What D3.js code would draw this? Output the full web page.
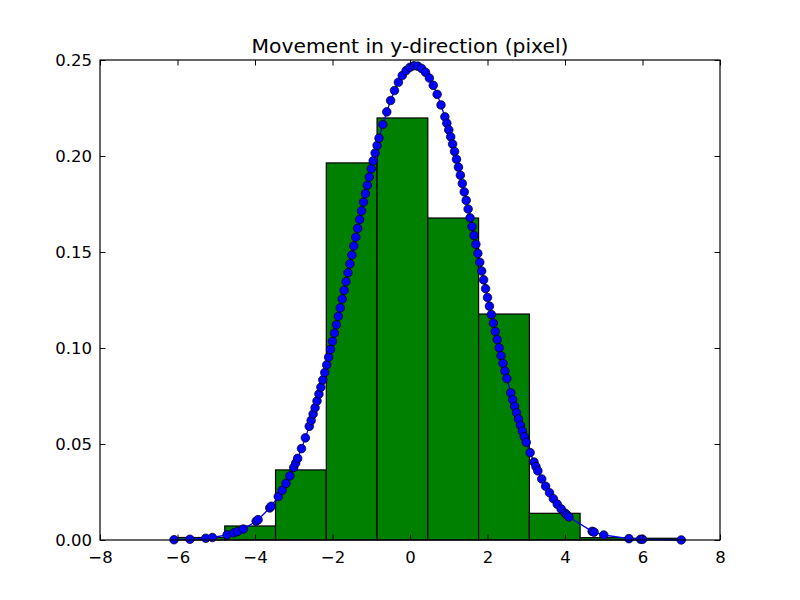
<!DOCTYPE html>
<html><head><meta charset="utf-8">
<script src="https://d3js.org/d3.v7.min.js"></script>
<style>body{margin:0;background:#fff}svg{display:block}text{font-family:"DejaVu Sans",sans-serif}</style>
</head><body><svg id="c" width="800" height="600"></svg>
<script>
// Histogram bins (edges) and density heights
const binEdges = [-6.09, -4.78, -3.47, -2.16, -0.85, 0.46, 1.77, 3.08, 4.39, 5.70, 7.01];
const binHeights = [0.0013, 0.0073, 0.0365, 0.1964, 0.2198, 0.1677, 0.1177, 0.0139, 0.0012, 0.0009];
// Sorted samples and their fitted pdf values
const sampleX = [-6.09,-5.68,-5.27,-5.1,-4.72,-4.55,-4.45,-4.3,-3.97,-3.92,-3.62,-3.58,-3.4,-3.3,-3.2,-3.1,-3.0,-2.95,-2.9,-2.8,-2.7,-2.6,-2.55,-2.5,-2.45,-2.4,-2.35,-2.3,-2.25,-2.2,-2.15,-2.1,-2.05,-2.0,-1.95,-1.9,-1.85,-1.8,-1.75,-1.7,-1.65,-1.6,-1.55,-1.5,-1.45,-1.4,-1.35,-1.3,-1.25,-1.2,-1.15,-1.1,-1.05,-1.0,-0.95,-0.9,-0.85,-0.8,-0.7,-0.6,-0.5,-0.4,-0.3,-0.2,-0.1,0.0,0.1,0.2,0.3,0.4,0.5,0.6,0.7,0.8,0.9,0.95,1.0,1.05,1.1,1.15,1.2,1.25,1.3,1.35,1.4,1.45,1.5,1.55,1.6,1.65,1.7,1.75,1.8,1.85,1.9,1.95,2.0,2.05,2.1,2.15,2.2,2.25,2.3,2.35,2.4,2.45,2.5,2.6,2.65,2.7,2.75,2.8,2.85,2.9,2.95,3.0,3.1,3.2,3.25,3.3,3.4,3.5,3.6,3.7,3.8,3.9,4.0,4.05,4.1,4.7,4.75,5.0,5.65,5.95,6.0,7.0];
const sampleY = [0.00015,0.00038,0.00092,0.0013,0.0027,0.0037,0.0044,0.0057,0.0098,0.0106,0.0167,0.0176,0.0226,0.0259,0.0295,0.0334,0.0378,0.0401,0.0425,0.0476,0.0532,0.0592,0.0623,0.0656,0.0689,0.0724,0.0760,0.0796,0.0834,0.0872,0.0912,0.0952,0.0993,0.1035,0.1078,0.1121,0.1165,0.1209,0.1255,0.1300,0.1346,0.1392,0.1438,0.1484,0.1531,0.1577,0.1623,0.1669,0.1714,0.1760,0.1804,0.1848,0.1891,0.1934,0.1975,0.2016,0.2055,0.2093,0.2164,0.2230,0.2289,0.2341,0.2384,0.2419,0.2445,0.2462,0.2470,0.2468,0.2456,0.2436,0.2406,0.2368,0.2321,0.2266,0.2204,0.2171,0.2136,0.2100,0.2062,0.2023,0.1983,0.1942,0.1900,0.1857,0.1813,0.1769,0.1724,0.1678,0.1632,0.1586,0.1540,0.1493,0.1447,0.1401,0.1355,0.1309,0.1263,0.1218,0.1174,0.1130,0.1086,0.1044,0.1001,0.0960,0.0920,0.0880,0.0841,0.0767,0.0731,0.0696,0.0663,0.0630,0.0598,0.0567,0.0538,0.0509,0.0455,0.0406,0.0382,0.0360,0.0318,0.0280,0.0246,0.0215,0.0187,0.0162,0.0140,0.0130,0.0120,0.0045,0.0041,0.0026,0.0007,0.0004,0.00035,0.00003];
const xTicks = [-8,-6,-4,-2,0,2,4,6,8];
const yTicks = [0.00,0.05,0.10,0.15,0.20,0.25];
const title = "Movement in y-direction (pixel)";

const L=100, R=720, T=60, B=540;
const svg = d3.select("#c");
const x = d3.scaleLinear().domain([-8,8]).range([L,R]);
const y = d3.scaleLinear().domain([0,0.25]).range([B,T]);

const bins = binHeights.map((h,i)=>({x0:binEdges[i],x1:binEdges[i+1],h}));
svg.append("g").selectAll("rect").data(bins).join("rect")
  .attr("x",d=>x(d.x0)).attr("width",d=>x(d.x1)-x(d.x0))
  .attr("y",d=>y(d.h)).attr("height",d=>B-y(d.h))
  .attr("fill","#008000").attr("stroke","#000").attr("stroke-width",1.2);

const pts = sampleX.map((v,i)=>[v,sampleY[i]]);
svg.append("path").datum(pts)
  .attr("d",d3.line().x(d=>x(d[0])).y(d=>y(d[1])))
  .attr("fill","none").attr("stroke","#0000ff").attr("stroke-width",1.3);
svg.append("g").selectAll("circle").data(pts).join("circle")
  .attr("cx",d=>x(d[0])).attr("cy",d=>y(d[1])).attr("r",4.3)
  .attr("fill","#0000ff").attr("stroke","#000").attr("stroke-width",0.7);

const fmtY = d3.format(".2f");
const fmtX = v => (v<0?"\u2212":"")+Math.abs(v);
const tl = 5.5;
const gx = svg.append("g").attr("transform",`translate(0,${B})`)
  .call(d3.axisBottom(x).tickValues(xTicks).tickFormat(fmtX).tickSizeInner(-tl).tickSizeOuter(0).tickPadding(11));
const gxt = svg.append("g").attr("transform",`translate(0,${T})`)
  .call(d3.axisTop(x).tickValues(xTicks).tickFormat("").tickSizeInner(-tl).tickSizeOuter(0));
const gy = svg.append("g").attr("transform",`translate(${L},0)`)
  .call(d3.axisLeft(y).tickValues(yTicks).tickFormat(fmtY).tickSizeInner(-tl).tickSizeOuter(0).tickPadding(8));
const gyr = svg.append("g").attr("transform",`translate(${R},0)`)
  .call(d3.axisRight(y).tickValues(yTicks).tickFormat("").tickSizeInner(-tl).tickSizeOuter(0));
[gx,gxt,gy,gyr].forEach(g=>{
  g.select(".domain").remove();
  g.selectAll("line").attr("stroke","#000").attr("stroke-width",1);
  g.selectAll("text").attr("fill","#000").style("font-size","16.5px").style("font-family","DejaVu Sans");
});
svg.append("rect").attr("x",L).attr("y",T).attr("width",R-L).attr("height",B-T)
  .attr("fill","none").attr("stroke","#000").attr("stroke-width",1.2);
svg.append("text").attr("x",(L+R)/2).attr("y",T-7).attr("text-anchor","middle")
  .style("font-size","20.3px").attr("fill","#000").text(title);
</script></body></html>
